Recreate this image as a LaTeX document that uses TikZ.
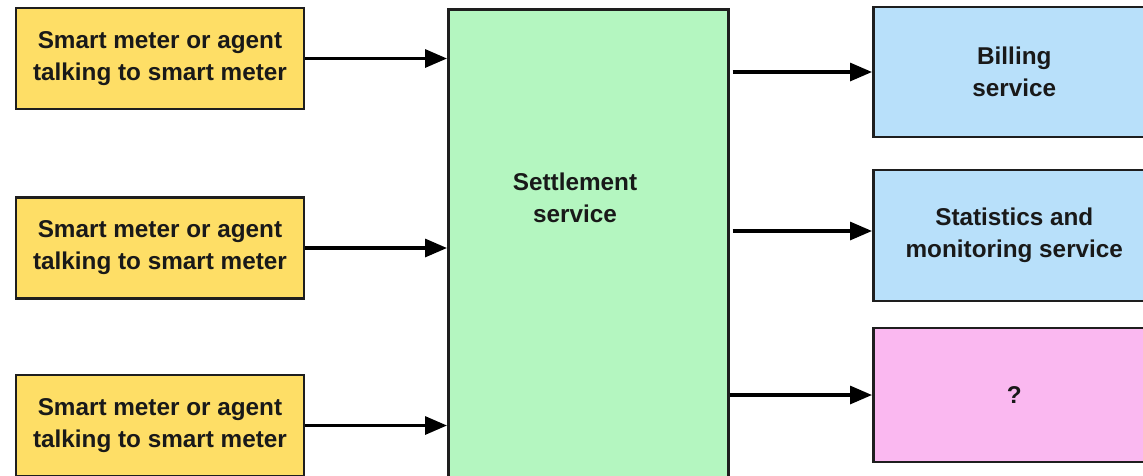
\documentclass[tikz,border=0pt]{standalone}
\usepackage{fontspec}
\setmainfont{Liberation Sans}
\usetikzlibrary{arrows.meta}
\definecolor{meterfill}{RGB}{254,222,102}
\definecolor{settlefill}{RGB}{180,246,192}
\definecolor{servicefill}{RGB}{184,224,250}
\definecolor{unknownfill}{RGB}{250,184,240}
\definecolor{edge}{RGB}{30,30,30}
\begin{document}
\begin{tikzpicture}[x=1pt,y=-1pt,
  box/.style={draw=edge,line width=2.6pt,rectangle,inner sep=0pt,
    align=center,font=\fontsize{24.3}{32}\selectfont\bfseries,text=black!90},
  meter/.style={box,fill=meterfill,minimum width=288pt,minimum height=101pt},
  service/.style={box,minimum width=282pt,minimum height=130pt},
  flow/.style={line width=3.2pt,draw=black,-{Triangle[length=22pt,width=18pt]}}]
\useasboundingbox (0,0) rectangle (1143,475);
\clip (0,0) rectangle (1143,475);
\fill[white] (0,0) rectangle (1143,475);
% sources
\node[meter] (m1) at (160,58.5) {Smart meter or agent\\talking to smart meter};
\node[meter] (m2) at (160,248) {Smart meter or agent\\talking to smart meter};
\node[meter] (m3) at (160,425.5) {Smart meter or agent\\talking to smart meter};
% central service (runs past the lower edge)
\node[box,fill=settlefill,minimum width=280pt,minimum height=520pt,anchor=north west] (settle) at (447,8) {};
\node[font=\fontsize{24.3}{32}\selectfont\bfseries,align=center,text=black!90] (settletext) at (575,198) {Settlement\\service};
% consumers (run past the right edge)
\node[service,fill=servicefill,anchor=west,text depth=-8pt] (bill) at (872,72) {Billing\\service};
\node[service,fill=servicefill,anchor=west,minimum height=131pt] (stats) at (872,235.5) {Statistics and\\monitoring service};
\node[service,fill=unknownfill,anchor=west,minimum height=134pt] (unknown) at (872,395) {?};
% flows in
\draw[flow] (m1.east) -- (m1.east -| settle.west);
\draw[flow] (m2.east) -- (m2.east -| settle.west);
\draw[flow] (m3.east) -- (m3.east -| settle.west);
% flows out
\draw[flow,shorten <=3pt] (settle.east |- bill.west) -- (bill.west);
\draw[flow,shorten <=3pt] (settle.east |- 0,231) -- (stats.west |- 0,231);
\draw[flow] (settle.east |- unknown.west) -- (unknown.west);
\end{tikzpicture}
\end{document}
